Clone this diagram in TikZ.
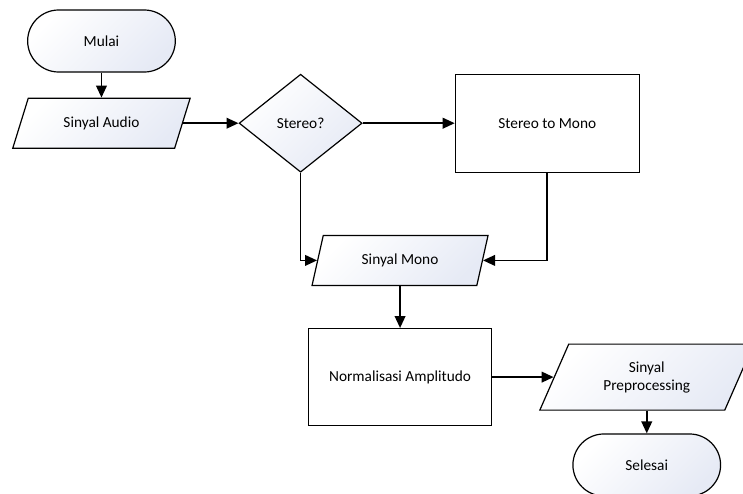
\documentclass[tikz,border=0pt]{standalone}
\usepackage{fontspec}
\setmainfont{Carlito}
\usetikzlibrary{positioning,shapes.geometric,shapes.misc,arrows.meta}
\definecolor{flowshade}{HTML}{E6EAF5}

\begin{document}
\begin{tikzpicture}[
    base/.style={draw=black, line width=0.9pt, align=center, font=\fontsize{11.5}{13.5}\selectfont, inner sep=2pt},
    shaded/.style={top color=white, bottom color=flowshade, shading angle=45},
    term/.style={base, shaded, rounded rectangle, minimum width=114.75pt, minimum height=46.5pt},
    io/.style={base, shaded, trapezium, trapezium stretches=true, minimum height=37.5pt},
    decision/.style={base, shaded, diamond, aspect=1.25, minimum width=92.25pt, minimum height=73.5pt},
    process/.style={base, fill=white, rectangle},
    arrow/.style={-{Triangle[length=9pt, width=8pt]}, line width=1.3pt}
  ]
    \useasboundingbox (-76.1pt,30.75pt) rectangle (481.15pt,-339pt);

    \node[term] (mulai) {Mulai};
    \node[io, trapezium left angle=65, trapezium right angle=115, minimum width=133.5pt, below=18.75pt of mulai] (audio) {Sinyal Audio};
    \node[decision, right=41.6pt of audio] (stereo) {Stereo?};
    \node[process, minimum width=138pt, minimum height=73.5pt, right=69pt of stereo] (tomono) {Stereo to Mono};

    \node[io, trapezium left angle=72, trapezium right angle=108, minimum width=132.75pt, below=46.5pt of stereo, xshift=74.6pt] (mono) {Sinyal Mono};
    \node[process, minimum width=137.25pt, minimum height=72.75pt, below=31.5pt of mono] (norm) {Normalisasi Amplitudo};
    \node[io, trapezium left angle=65, trapezium right angle=115, minimum width=161.25pt, minimum height=49.5pt, right=46.1pt of norm] (preproc) {Sinyal\\Preprocessing};
    \node[term, below=17pt of preproc] (selesai) {Selesai};

    \draw[arrow] (mulai.south) -- (audio.north);
    \draw[arrow] (audio.east) -- (stereo.west);
    \draw[arrow] (stereo.east) -- (tomono.west);
    \draw[arrow] (stereo.south) |- (mono.west);
    \draw[arrow] (tomono.south) |- (mono.east);
    \draw[arrow] (mono.south) -- (norm.north);
    \draw[arrow] (norm.east) -- (preproc.west);
    \draw[arrow] (preproc.south) -- (selesai.north);

  \end{tikzpicture}
\end{document}
